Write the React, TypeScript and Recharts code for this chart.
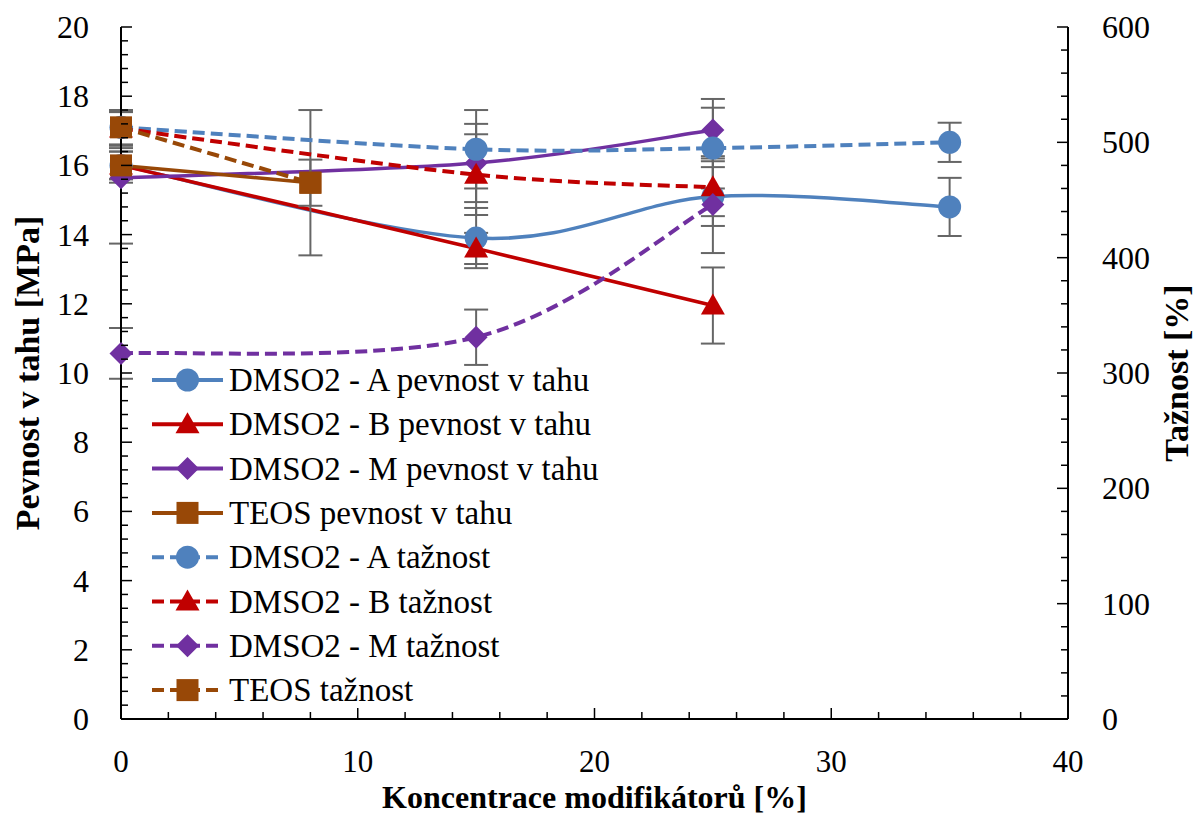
import React from 'react';
import { LineChart, Line, XAxis, YAxis, ErrorBar } from 'recharts';

// concentrations [%]
const concA = [0, 15, 25, 35];
const concB = [0, 15, 25];
const concM = [0, 15, 25];
const concTeos = [0, 8];

// tensile strength [MPa] (left axis)
const pevnostA = [16.0, 13.9, 15.1, 14.8];
const pevnostAErr = [0.4, 0.87, 0.85, 0.84];
const pevnostB = [16.0, 13.6, 11.95];
const pevnostBErr = [0.4, 0.45, 1.1];
const pevnostM = [15.64, 16.07, 17.02];
const pevnostMErr = [1.9, 1.13, 0.9];
const pevnostTeos = [16.0, 15.5];
const pevnostTeosErr = [0.5, 2.1];

// elongation [%] (right axis)
const taznostA = [513, 494, 495, 500];
const taznostAErr = [15, 34, 35, 17];
const taznostB = [512, 472, 461];
const taznostBErr = [15, 35, 25];
const taznostM = [317, 331, 446];
const taznostMErr = [22, 24, 42];
const taznostTeos = [513, 465];
const taznostTeosErr = [15, 20];

const xMajor = [0, 10, 20, 30, 40];
const leftMajor = [0, 2, 4, 6, 8, 10, 12, 14, 16, 18, 20];
const rightMajor = [0, 100, 200, 300, 400, 500, 600];

const BLUE = '#4F81BD';
const RED = '#C00000';
const PURPLE = '#7030A0';
const BROWN = '#984807';
const FONT = 'Liberation Serif, Times New Roman, Tinos, DejaVu Serif, serif';

const W = 1197;
const H = 814;
const PLOT = { left: 121, right: 1068, top: 27, bottom: 719 };

const minors = (max: number, step: number) => {
  const out: number[] = [];
  for (let i = 0; i * step <= max + 1e-9; i++) out.push(+(i * step).toFixed(4));
  return out;
};
const isIn = (arr: number[], v: number) => arr.some((m) => Math.abs(m - v) < 1e-6);

const rows = (x: number[], y: number[], e: number[]) => x.map((c, i) => ({ c, v: y[i], e: e[i] }));

// Excel-like smoothed line (Catmull-Rom as bezier)
const smooth: any = (context: any) => {
  let pts: number[][] = [];
  return {
    areaStart() {},
    areaEnd() {},
    lineStart() {
      pts = [];
    },
    point(x: number, y: number) {
      pts.push([+x, +y]);
    },
    lineEnd() {
      const n = pts.length;
      if (!n) return;
      context.moveTo(pts[0][0], pts[0][1]);
      for (let i = 0; i < n - 1; i++) {
        const p0 = pts[Math.max(i - 1, 0)];
        const p1 = pts[i];
        const p2 = pts[i + 1];
        const p3 = pts[Math.min(i + 2, n - 1)];
        context.bezierCurveTo(
          p1[0] + (p2[0] - p0[0]) / 6,
          p1[1] + (p2[1] - p0[1]) / 6,
          p2[0] - (p3[0] - p1[0]) / 6,
          p2[1] - (p3[1] - p1[1]) / 6,
          p2[0],
          p2[1]
        );
      }
    },
  };
};

type Shape = 'circle' | 'triangle' | 'diamond' | 'square';

const Marker = ({ cx, cy, shape, color }: { cx: number; cy: number; shape: Shape; color: string }) => {
  if (cx == null || cy == null) return null;
  if (shape === 'circle') return <circle cx={cx} cy={cy} r={11.5} fill={color} />;
  if (shape === 'triangle')
    return <polygon points={`${cx},${cy - 12} ${cx - 12},${cy + 9} ${cx + 12},${cy + 9}`} fill={color} />;
  if (shape === 'diamond')
    return <polygon points={`${cx},${cy - 11.5} ${cx + 11.5},${cy} ${cx},${cy + 11.5} ${cx - 11.5},${cy}`} fill={color} />;
  return <rect x={cx - 11} y={cy - 11} width={22} height={22} fill={color} />;
};

const series = [
  { name: 'DMSO2 - A pevnost v tahu', data: rows(concA, pevnostA, pevnostAErr), axis: 'l', color: BLUE, shape: 'circle', dashed: false },
  { name: 'DMSO2 - B pevnost v tahu', data: rows(concB, pevnostB, pevnostBErr), axis: 'l', color: RED, shape: 'triangle', dashed: false },
  { name: 'DMSO2 - M pevnost v tahu', data: rows(concM, pevnostM, pevnostMErr), axis: 'l', color: PURPLE, shape: 'diamond', dashed: false },
  { name: 'TEOS pevnost v tahu', data: rows(concTeos, pevnostTeos, pevnostTeosErr), axis: 'l', color: BROWN, shape: 'square', dashed: false },
  { name: 'DMSO2 - A tažnost', data: rows(concA, taznostA, taznostAErr), axis: 'r', color: BLUE, shape: 'circle', dashed: true },
  { name: 'DMSO2 - B tažnost', data: rows(concB, taznostB, taznostBErr), axis: 'r', color: RED, shape: 'triangle', dashed: true },
  { name: 'DMSO2 - M tažnost', data: rows(concM, taznostM, taznostMErr), axis: 'r', color: PURPLE, shape: 'diamond', dashed: true },
  { name: 'TEOS tažnost', data: rows(concTeos, taznostTeos, taznostTeosErr), axis: 'r', color: BROWN, shape: 'square', dashed: true },
] as { name: string; data: any[]; axis: string; color: string; shape: Shape; dashed: boolean }[];

const LeftTick = (p: any) => {
  const v = p.payload.value;
  const major = isIn(leftMajor, v);
  const y = p.y;
  return (
    <g>
      <line x1={PLOT.left} x2={PLOT.left + (major ? 11 : 7)} y1={y} y2={y} stroke="#000" strokeWidth={1.5} />
      {major && (
        <text x={PLOT.left - 32} y={y + 11} textAnchor="end" fontFamily={FONT} fontSize={32} fill="#000">
          {v}
        </text>
      )}
    </g>
  );
};

const RightTick = (p: any) => {
  const v = p.payload.value;
  const major = isIn(rightMajor, v);
  const y = p.y;
  return (
    <g>
      <line x1={PLOT.right} x2={PLOT.right - (major ? 11 : 7)} y1={y} y2={y} stroke="#000" strokeWidth={1.5} />
      {major && (
        <text x={PLOT.right + 34} y={y + 11} textAnchor="start" fontFamily={FONT} fontSize={32} fill="#000">
          {v}
        </text>
      )}
    </g>
  );
};

const BottomTick = (p: any) => {
  const v = p.payload.value;
  const major = isIn(xMajor, v);
  const x = p.x;
  return (
    <g>
      <line x1={x} x2={x} y1={PLOT.bottom} y2={PLOT.bottom - (major ? 11 : 7)} stroke="#000" strokeWidth={1.5} />
      {major && (
        <text x={x} y={PLOT.bottom + 53} textAnchor="middle" fontFamily={FONT} fontSize={31} fill="#000">
          {v}
        </text>
      )}
    </g>
  );
};

const LegendIcon = ({ y, color, shape, dashed }: { y: number; color: string; shape: Shape; dashed: boolean }) => (
  <g>
    <line
      x1={152}
      x2={223}
      y1={y}
      y2={y}
      stroke={color}
      strokeWidth={4}
      strokeDasharray={dashed ? '12 6' : undefined}
    />
    <Marker cx={187.5} cy={y} shape={shape} color={color} />
  </g>
);

export default function App() {
  return (
    <div style={{ position: 'absolute', left: 0, top: 0, width: W, height: H, background: '#fff' }}>
      <LineChart width={W} height={H} margin={{ top: PLOT.top, right: 0, bottom: 0, left: 0 }}>
        <XAxis
          dataKey="c"
          type="number"
          domain={[0, 40]}
          ticks={minors(40, 2)}
          interval={0}
          height={H - PLOT.bottom}
          tick={BottomTick}
          tickLine={false}
          axisLine={{ stroke: '#000', strokeWidth: 2 }}
        />
        <YAxis
          yAxisId="l"
          domain={[0, 20]}
          ticks={minors(20, 0.4)}
          interval={0}
          width={PLOT.left}
          tick={LeftTick}
          tickLine={false}
          axisLine={{ stroke: '#000', strokeWidth: 2 }}
        />
        <YAxis
          yAxisId="r"
          orientation="right"
          domain={[0, 600]}
          ticks={minors(600, 20)}
          interval={0}
          width={W - PLOT.right}
          tick={RightTick}
          tickLine={false}
          axisLine={{ stroke: '#000', strokeWidth: 2 }}
        />
        {series.map((s) => (
          <Line
            key={s.name}
            data={s.data}
            dataKey="v"
            yAxisId={s.axis}
            type={smooth}
            stroke={s.color}
            strokeWidth={s.dashed ? 4 : 3.5}
            strokeDasharray={s.dashed ? '12 6' : undefined}
            dot={(p: any) => <Marker key={`${s.name}-${p.index}`} cx={p.cx} cy={p.cy} shape={s.shape} color={s.color} />}
            activeDot={false}
            isAnimationActive={false}
          >
            <ErrorBar dataKey="e" direction="y" width={12} stroke="#666" strokeWidth={2} isAnimationActive={false} />
          </Line>
        ))}
      </LineChart>
      <svg width={W} height={H} style={{ position: 'absolute', left: 0, top: 0, pointerEvents: 'none' }}>
        {series.map((s, i) => {
          const y = 380 + i * 44.3;
          return (
            <g key={s.name}>
              <LegendIcon y={y} color={s.color} shape={s.shape} dashed={s.dashed} />
              <text x={229} y={y + 11} fontFamily={FONT} fontSize={33} fill="#000">
                {s.name}
              </text>
            </g>
          );
        })}
        <text
          x={(PLOT.left + PLOT.right) / 2}
          y={808}
          textAnchor="middle"
          fontFamily={FONT}
          fontSize={32}
          fontWeight="bold"
          fill="#000"
        >
          Koncentrace modifikátorů [%]
        </text>
        <text
          transform={`translate(39 ${(PLOT.top + PLOT.bottom) / 2}) rotate(-90)`}
          textAnchor="middle"
          fontFamily={FONT}
          fontSize={34}
          fontWeight="bold"
          fill="#000"
        >
          Pevnost v tahu [MPa]
        </text>
        <text
          transform={`translate(1188 ${(PLOT.top + PLOT.bottom) / 2}) rotate(-90)`}
          textAnchor="middle"
          fontFamily={FONT}
          fontSize={34}
          fontWeight="bold"
          fill="#000"
        >
          Tažnost [%]
        </text>
      </svg>
    </div>
  );
}
